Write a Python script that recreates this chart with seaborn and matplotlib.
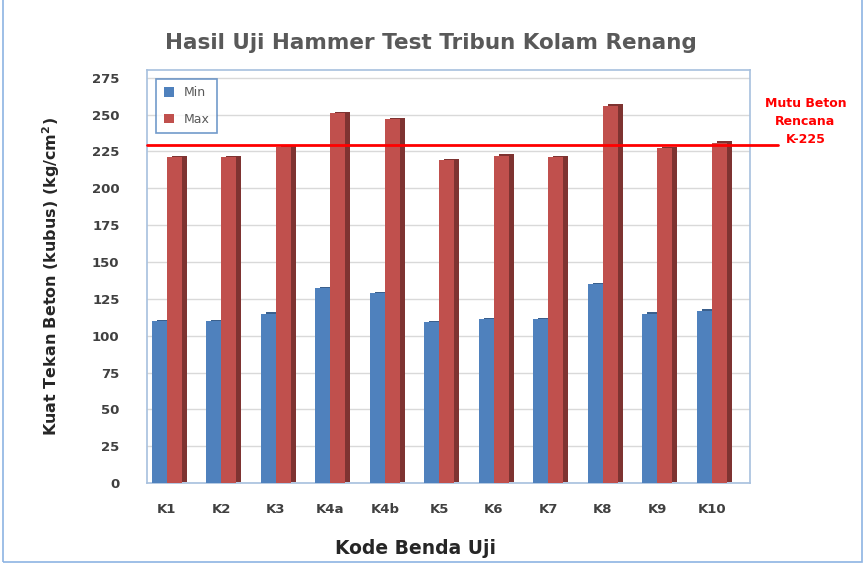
import matplotlib
matplotlib.use("Agg")
import matplotlib.pyplot as plt
import matplotlib.patheffects as pe
from matplotlib.patches import Rectangle
import seaborn as sns
import pandas as pd

kode = ['K1', 'K2', 'K3', 'K4a', 'K4b', 'K5', 'K6', 'K7', 'K8', 'K9', 'K10']
nilai_min = [110, 110, 115, 132, 129, 109, 111, 111, 135, 115, 117]
nilai_max = [221, 221, 228, 251, 247, 219, 222, 221, 256, 227, 231]
mutu_rencana = 229

df = pd.DataFrame({'kode': kode * 2,
                   'nilai': nilai_min + nilai_max,
                   'seri': ['Min'] * len(kode) + ['Max'] * len(kode)})

sns.set_style("white")
plt.rcParams['font.family'] = ['DejaVu Sans']

fig = plt.figure(figsize=(8.66, 5.67), dpi=100)
ax = fig.add_axes([0.170, 0.148, 0.696, 0.728])

warna = {'Min': '#4F81BD', 'Max': '#C0504D'}
sns.barplot(data=df, x='kode', y='nilai', hue='seri', palette=warna,
            width=0.55, gap=0.0, ax=ax, saturation=1, linewidth=0, zorder=3)

# fake 3D side shading
gelap = {'Min': '#3A5F8C', 'Max': '#7E3331'}
for cont, key in zip(ax.containers, ['Min', 'Max']):
    for bar in cont:
        bar.set_path_effects([pe.SimplePatchShadow(offset=(3.5, 1), shadow_rgbFace=gelap[key], alpha=1.0),
                              pe.Normal()])

ax.set_xlim(-0.36, 10.7)
ax.set_ylim(0, 280)
ax.set_yticks(range(0, 276, 25))
ax.yaxis.grid(True, color='#D9D9D9', linewidth=1, zorder=0)
for s in ax.spines.values():
    s.set_color('#A7C0DE')
    s.set_linewidth(1.2)

ax.tick_params(axis='both', length=0, labelsize=9.5, labelcolor='#404040')
ax.tick_params(axis='y', pad=20)
ax.tick_params(axis='x', pad=14)
for t in ax.get_xticklabels() + ax.get_yticklabels():
    t.set_fontweight('bold')

ax.set_xlabel('Kode Benda Uji', fontsize=13.5, fontweight='bold')
ax.xaxis.set_label_coords(0.445, -0.135)
ax.set_ylabel('Kuat Tekan Beton (kubus) (kg/cm$^\\mathbf{2}$)', fontsize=11.5, fontweight='bold')
ax.yaxis.set_label_coords(-0.142, 0.5)

fig.text(0.497, 0.925, 'Hasil Uji Hammer Test Tribun Kolam Renang', ha='center', va='center',
         fontsize=15.5, fontweight='bold', color='#595959')

# design strength line
ax.axhline(mutu_rencana, xmin=0, xmax=1.046, color='#FF0000', linewidth=2, clip_on=False, zorder=5)
fig.text(0.93, 0.785, 'Mutu Beton\nRencana\nK-225', ha='center', va='center',
         fontsize=9, fontweight='bold', color='#FF0000', linespacing=1.5)

leg = ax.legend(loc='upper left', bbox_to_anchor=(0.005, 0.995), frameon=True, fancybox=False,
                fontsize=9, handlelength=0.8, handleheight=0.8, labelspacing=1.1, borderpad=0.6)
leg.get_frame().set_edgecolor('#4F81BD')
leg.get_frame().set_linewidth(1.2)
for t in leg.get_texts():
    t.set_color('#595959')

fig.patches.append(Rectangle((0.004, 0.008), 0.991, 1.1, transform=fig.transFigure,
                             fill=False, edgecolor='#8EB4E3', linewidth=1.2))

fig.savefig('out.png', dpi=100)
